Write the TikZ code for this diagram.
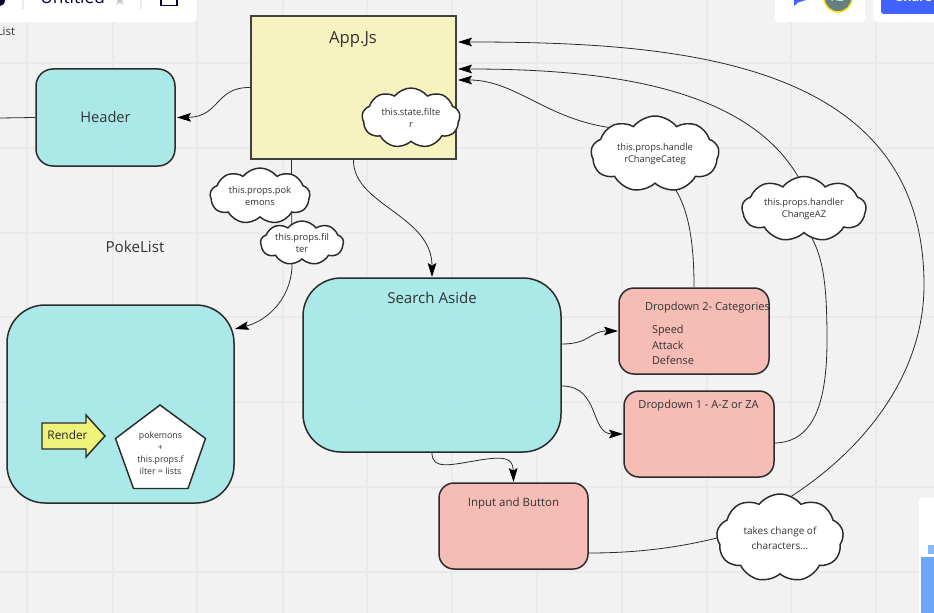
\documentclass[tikz,border=0pt]{standalone}
\usepackage{fontspec}
\setmainfont{Open Sans}
\usetikzlibrary{shapes.symbols,arrows.meta,calc}
\def\pxu{0.75pt}
\definecolor{bgc}{HTML}{F2F2F2}
\definecolor{gridc}{HTML}{EAEAEA}
\definecolor{linec}{HTML}{2B2B2B}
\definecolor{txtc}{HTML}{333333}
\definecolor{tealc}{HTML}{A6E9E9}
\definecolor{pinkc}{HTML}{F6B9B1}
\definecolor{yelc}{HTML}{F7F4BE}
\definecolor{rendc}{HTML}{EFF27A}
\definecolor{navyc}{HTML}{050038}
\definecolor{bluec}{HTML}{4262FF}
\definecolor{sidec}{HTML}{6CA6F8}
\tikzset{
  box/.style={draw=linec,line width=1.5pt*0.75,fill opacity=.93,text opacity=1,outer sep=0pt,inner sep=0pt},
  tealbox/.style={box,fill=tealc},
  pinkbox/.style={box,fill=pinkc,rounded corners=15*\pxu,minimum width=150*\pxu,minimum height=86*\pxu},
  puff/.style={cloud,cloud puffs=9,cloud puff arc=105,cloud ignores aspect,draw=linec,line width=1.1pt,fill=white,inner sep=0pt,outer sep=0pt,align=center,text=txtc,font=\fontsize{7}{9.5}\selectfont},
  lab/.style={text=txtc,inner sep=0pt,align=left},
  conn/.style={draw=linec,line width=0.6pt},
  tipped/.style={conn,-{Stealth[length=10.5pt,width=6.5pt,inset=2pt,black]}},
  chrome/.style={fill=white,draw=none},
}
\begin{document}
\begin{tikzpicture}[x=0.75pt,y=-0.75pt]
\clip (0,0) rectangle (934,613);
\fill[bgc] (0,0) rectangle (934,613);
% grid
\foreach \gx in {27,113,197,283,367,452,537,622,707,791,876}
  \draw[gridc,line width=0.8pt] (\gx,0) -- (\gx,613);
\foreach \gy in {63,148,233,317,402,487,572}
  \draw[gridc,line width=0.8pt] (0,\gy) -- (934,\gy);

% boxes
\node[box,fill=yelc,draw=linec!90,line width=1.5pt,minimum width=205*\pxu,minimum height=143*\pxu] (app) at (353.5,87.5) {};
\node[tealbox,rounded corners=17*\pxu,minimum width=139*\pxu,minimum height=97*\pxu] (hdr) at (105.5,117.5) {};
\node[tealbox,rounded corners=38*\pxu,minimum width=227*\pxu,minimum height=198*\pxu] (list) at (120.5,404) {};
\node[tealbox,rounded corners=38*\pxu,minimum width=258*\pxu,minimum height=174*\pxu] (search) at (432,365) {};
\node[pinkbox] (dtwo) at (694,331) {};
\node[pinkbox] (done) at (699,434) {};
\node[pinkbox,minimum width=149*\pxu] (inp) at (513.5,526) {};

% free ends
\coordinate (offl) at (0,118);

% connectors
\draw[tipped] ($(app.west)+(-1,0)$) .. controls (215,87) and (220,117) .. ($(hdr.east)+(2,0)$);
\draw[conn] (offl) -- ($(hdr.west)+(-1,0)$);
\draw[tipped] ($(app.south)+(-62,1)$) -- (292,262) .. controls (293,295) and (270,320) .. ($(list.east)+(1,-75)$);
\draw[tipped] ($(app.south)+(0,1)$) .. controls (353,205) and (432,215) .. ($(search.north)+(0,-1)$);
\draw[tipped] ($(search.east)+(1,-21)$) .. controls (590,344) and (590,331) .. ($(dtwo.west)+(-1,0)$);
\draw[tipped] ($(search.east)+(1,21)$) .. controls (600,386) and (590,434) .. ($(done.west)+(-1,0)$);
\draw[tipped] ($(search.south)+(0,1)$) .. controls (432,470) and (450,465) .. (480,460) .. controls (505,456) and (513,458) .. ($(inp.north)+(0,-1)$);

% clouds
\node[puff,minimum width=98*\pxu,minimum height=60*\pxu] (cstate) at (411,118) {this.state.filte\\r};
\node[puff,minimum width=100*\pxu,minimum height=56*\pxu] (cpok) at (260,196) {this.props.pok\\emons};
\node[puff,minimum width=83*\pxu,minimum height=44*\pxu] (cfil) at (302,243) {this.props.fil\\ter};
\node[puff,minimum width=128*\pxu,minimum height=76*\pxu] (ccat) at (655,154) {this.props.handle\\rChangeCateg};
\node[puff,minimum width=124*\pxu,minimum height=65*\pxu] (caz) at (804,209) {this.props.handler\\ChangeAZ};
\node[puff,minimum width=127*\pxu,minimum height=88*\pxu,font=\fontsize{7.5}{11}\selectfont] (ctake) at (780,538) {takes change of\\characters...};

% cloud connectors
\draw[conn] ($(dtwo.north)+(0,-1)$) .. controls (694,240) and (688,210) .. (ccat.300);
\draw[tipped] (ccat.150) .. controls (545,118) and (515,80) .. ($(app.east)+(2,-7.5)$);
\draw[conn] ($(done.east)+(1,9)$) .. controls (815,442) and (827,400) .. (827,340) .. controls (827,290) and (824,260) .. (caz.285);
\draw[tipped] (caz.100) .. controls (745,85) and (600,69) .. ($(app.east)+(2,-18.5)$);
\draw[conn] ($(inp.east)+(1,27)$) .. controls (640,553) and (680,547) .. (ctake.west);
\draw[tipped] (ctake.75) .. controls (870,445) and (924,370) .. (924,285) .. controls (924,60) and (680,42) .. ($(app.east)+(2,-45.5)$);

% texts
\node[lab,font=\fontsize{12.5}{15}\selectfont] (tapp) at (353,40) {App.Js};
\node[lab,font=\fontsize{11}{13}\selectfont] (thdr) at (105.5,117) {Header};
\node[lab,font=\fontsize{11.4}{13}\selectfont] (tpl) at (135,246.5) {PokeList};
\node[lab,font=\fontsize{11.3}{13}\selectfont] (tsearch) at (432,298) {Search Aside};
\node[lab,font=\fontsize{8.3}{12}\selectfont] (tdtwo) at (707.5,308) {Dropdown 2- Categories};
\node[lab,font=\fontsize{8.2}{11.6}\selectfont] (tattr) at (673,345) {Speed\\Attack\\Defense};
\node[lab,font=\fontsize{8.3}{12}\selectfont] (tdone) at (698.5,405.5) {Dropdown 1 - A-Z or ZA};
\node[lab,font=\fontsize{8.6}{12}\selectfont] (tinp) at (513.5,503.5) {Input and Button};

% render arrow and pentagon
\draw[draw=linec,line width=1.1pt,fill=rendc] (42,423) -- (86,423) -- (86,415) -- (105,436) -- (86,457) -- (86,449) -- (42,449) -- cycle;
\node[lab,font=\fontsize{8.9}{10}\selectfont,text=black!85] (trender) at (67.5,435) {Render};
\draw[draw=linec,line width=1.1pt,fill=white] (160,405) -- (205.5,438.5) -- (188,488.5) -- (133.5,488.5) -- (115.5,438.5) -- cycle;
\node[lab,align=center,font=\fontsize{6.6}{9.1}\selectfont] (tpent) at (160.5,453) {pokemons\\+\\this.props.f\\ilter = lists};

% app chrome
\fill[white,opacity=.6] (0,0) rectangle (35,22);
\fill[chrome,rounded corners=3pt] (0,-8) rectangle (197,22);
\draw[gridc,line width=.8pt] (23,-2) -- (23,9);
\draw[gridc,line width=.8pt] (141,-2) -- (141,9);
\node[inner sep=0pt,anchor=base west,font=\fontsize{13}{15}\selectfont,text=navyc] (tuntitled) at (40,4) {Untitled};
\node[inner sep=0pt,font=\fontsize{11}{13}\selectfont,text=gridc!85!black] (tstar) at (120,0) {\fontspec{DejaVu Sans}★};
\draw[navyc,line width=1.2pt] (161,-3) -- (161,5.5) -- (177,5.5) -- (177,-3);
\fill[navyc] (0,0) -- (5,0) .. controls (5,4) and (2,6) .. (0,6) -- cycle;
\node[inner sep=0pt,anchor=base west,font=\fontsize{8.6}{10}\selectfont,text=txtc] (tlist) at (-3.5,36) {List};
\fill[chrome,rounded corners=3pt] (775,-8) rectangle (865,22);
\fill[chrome,rounded corners=3pt] (873,-8) rectangle (940,22);
\fill[bluec,rounded corners=2pt] (881,-8) rectangle (940,14);
\node[inner sep=0pt,anchor=base west,font=\bfseries\fontsize{9.5}{11}\selectfont,text=white] (tshare) at (896,2) {Share};
\fill[bluec] (794,0) -- (806,0) -- (798,2.5) -- (794,6) -- cycle;
\fill[fill=gray!80!teal,draw=yellow!80!orange!90,line width=1.2pt] (838,-2) circle (14);
\node[inner sep=0pt,font=\fontsize{7.5}{9}\selectfont,text=white] (tav) at (838,-2) {AB};
\fill[chrome,rounded corners=2pt] (919,498) rectangle (940,620);
\fill[sidec!80!white] (928,545) rectangle (940,554);
\fill[sidec] (921,557) rectangle (940,620);
\end{tikzpicture}
\end{document}
